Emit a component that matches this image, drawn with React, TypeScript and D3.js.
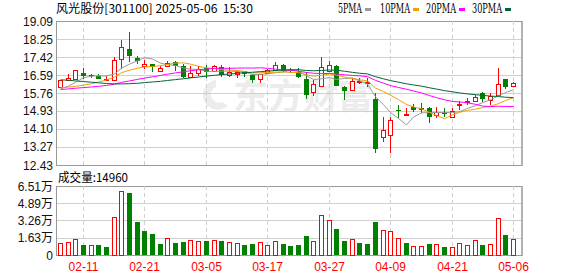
import React from 'react';
import * as d3 from 'd3';

// trading days shown (MM-DD)
const dates = [
  '02-06', '02-07', '02-10', '02-11', '02-12', '02-13', '02-14', '02-17', '02-18', '02-19',
  '02-20', '02-21', '02-24', '02-25', '02-26', '02-27', '02-28', '03-03', '03-04', '03-05',
  '03-06', '03-07', '03-10', '03-11', '03-12', '03-13', '03-14', '03-17', '03-18', '03-19',
  '03-20', '03-21', '03-24', '03-25', '03-26', '03-27', '03-28', '03-31', '04-01', '04-02',
  '04-03', '04-07', '04-08', '04-09', '04-10', '04-11', '04-14', '04-15', '04-16', '04-17',
  '04-18', '04-21', '04-22', '04-23', '04-24', '04-25', '04-28', '04-29', '04-30', '05-06',
];

const open = [
  16.04, 16.35, 16.42, 16.7, 16.59, 16.53, 16.38, 16.35, 17.35, 17.81,
  17.37, 17.03, 17.1, 16.79, 17.02, 17.18, 17.02, 16.51, 16.7, 16.92,
  16.8, 16.98, 16.6, 16.66, 16.76, 16.59, 16.39, 16.7, 16.82, 17.04,
  16.82, 16.72, 16.41, 15.82, 16.1, 16.79, 17.03, 16.04, 15.9, 16.28,
  16.26, 15.5, 13.74, 13.82, 14.98, 14.73, 15.12, 15.06, 15.07, 14.75,
  14.9, 14.66, 15.2, 15.34, 15.4, 15.74, 15.44, 15.67, 16.41, 16.08,
];
const close = [
  16.35, 16.44, 16.82, 16.53, 16.55, 16.43, 16.41, 17.27, 17.87, 17.49,
  17.22, 17.1, 16.97, 16.92, 17.14, 17.03, 16.52, 16.7, 16.87, 16.71,
  17.0, 16.57, 16.72, 16.75, 16.64, 16.37, 16.64, 16.81, 17.04, 16.8,
  16.76, 16.52, 15.67, 16.18, 16.95, 17.05, 16.1, 15.87, 16.32, 16.3,
  16.28, 13.15, 14.05, 14.51, 14.92, 14.79, 14.97, 14.99, 14.64, 14.9,
  14.78, 14.94, 15.23, 15.37, 15.56, 15.47, 15.62, 16.18, 16.06, 16.24,
];
const high = [
  16.38, 16.64, 16.84, 16.92, 16.65, 16.62, 16.55, 17.41, 18.2, 18.56,
  17.45, 17.3, 17.12, 17.02, 17.24, 17.22, 17.08, 17.02, 17.02, 17.04,
  17.05, 17.05, 16.98, 16.8, 16.8, 16.66, 16.66, 16.86, 17.21, 17.12,
  16.9, 16.9, 16.75, 16.35, 17.44, 17.24, 17.05, 16.1, 16.44, 16.44,
  16.44, 15.77, 14.66, 14.66, 15.2, 15.05, 15.24, 15.28, 15.1, 15.13,
  15.05, 15.05, 15.41, 15.54, 15.66, 15.79, 15.78, 16.9, 16.42, 16.28,
];
const low = [
  15.98, 16.3, 16.41, 16.4, 16.46, 16.4, 16.3, 16.3, 16.88, 17.21,
  17.1, 16.88, 16.75, 16.77, 16.95, 16.8, 16.45, 16.5, 16.53, 16.45,
  16.78, 16.52, 16.5, 16.47, 16.48, 16.24, 16.22, 16.68, 16.8, 16.72,
  16.7, 16.45, 15.47, 15.64, 16.08, 16.78, 16.08, 15.44, 15.88, 16.18,
  16.06, 13.0, 13.51, 13.0, 14.62, 14.72, 14.9, 14.85, 14.36, 14.6,
  14.66, 14.64, 14.97, 15.2, 15.35, 15.36, 15.22, 15.66, 15.96, 16.05,
];
// volume in 万
const volume = [
  1.11, 1.2, 1.49, 0.95, 0.92, 0.95, 0.76, 3.57, 6.04, 5.88,
  3.13, 2.28, 1.99, 1.04, 1.58, 1.14, 1.23, 1.39, 1.3, 1.33,
  1.39, 1.33, 1.23, 1.14, 0.95, 1.04, 1.2, 0.92, 1.3, 1.04,
  0.85, 0.95, 1.8, 1.3, 3.76, 3.29, 2.47, 1.33, 1.49, 1.14,
  1.04, 3.13, 2.34, 2.24, 1.58, 1.14, 0.82, 0.82, 1.04, 1.01,
  0.76, 0.73, 1.11, 0.92, 1.39, 0.95, 1.01, 3.48, 1.9, 1.496,
];

// MA values before enough closes are on screen
const ma5Head = [15.95, 16.08, 16.25, 16.47];
const ma10Head = [16.0, 16.03, 16.07, 16.12, 16.19, 16.27, 16.36, 16.5, 16.7];
const ma20Head = [
  15.92, 15.95, 15.98, 16.01, 16.04, 16.07, 16.11, 16.17, 16.25, 16.32,
  16.39, 16.45, 16.51, 16.57, 16.63, 16.69, 16.74, 16.79, 16.83,
];
const ma30Head = [
  16.37, 16.35, 16.32, 16.29, 16.26, 16.23, 16.2, 16.18, 16.18, 16.19,
  16.21, 16.24, 16.27, 16.3, 16.34, 16.38, 16.42, 16.46, 16.5, 16.54,
  16.58, 16.61, 16.64, 16.67, 16.7, 16.72, 16.75, 16.77, 16.8,
];

const priceTicks = [19.09, 18.25, 17.42, 16.59, 15.76, 14.93, 14.1, 13.27, 12.43];
const priceTickLabels = ['19.09', '18.25', '17.42', '16.59', '15.76', '14.93', '14.10', '13.27', '12.43'];
const volTicks = [6.51, 4.89, 3.26, 1.63, 0];
const volTickLabels = ['6.51万', '4.89万', '3.26万', '1.63万', '0'];
const dateTicks = ['02-11', '02-21', '03-05', '03-17', '03-27', '04-09', '04-21', '05-06'];

const maNames = ['5PMA', '10PMA', '20PMA', '30PMA'];
const maPeriods = [5, 10, 20, 30];
const maHeads = [ma5Head, ma10Head, ma20Head, ma30Head];
const maColors = ['#999999', '#f0a000', '#ff00ff', '#006633'];
const legendX = [338, 380, 426, 472];

const RED = '#ff0000';
const GREEN = '#008000';
const GRID = '#d0d0d0';
const FRAME = '#999999';
const FONT = '"Liberation Sans", Arial, "Noto Sans CJK SC", sans-serif';

const L = 56, R = 522;
const PT = 21, PB = 165;
const VT = 186, VB = 255;

export default function App() {
  const x = d3.scaleBand<string>().domain(dates).range([L, 517]);
  const cx = (i: number) => Math.round(x(dates[i])! + x.bandwidth() / 2) + 0.5;
  const yP = d3.scaleLinear().domain([12.43, 19.09]).range([PB, PT]);
  const yV = d3.scaleLinear().domain([0, 6.51]).range([VB, VT]);

  const maSeries = maPeriods.map((n, k) =>
    dates.map((_, i) =>
      i >= n - 1 ? d3.mean(close.slice(i - n + 1, i + 1))! : maHeads[k][i]
    )
  );
  const line = d3
    .line<number>()
    .x((_, i) => cx(i))
    .y((v) => yP(v));

  return (
    <svg width={578} height={276} style={{ position: 'absolute', left: 0, top: 0, background: '#fff' }}
      fontFamily={FONT}>
      {/* title & legend */}
      <text x={56} y={13} fontSize={12} fontFamily='"Noto Sans CJK SC", sans-serif'
        textLength={197} lengthAdjust="spacingAndGlyphs" style={{ whiteSpace: 'pre' }}>
        {'风光股份[301100] 2025-05-06  15:30'}
      </text>
      {maNames.map((n, k) => (
        <g key={n}>
          <text x={legendX[k]} y={13} fontSize={12} fontFamily='"DejaVu Serif", serif'
            textLength={n.length * 6} lengthAdjust="spacingAndGlyphs">{n}</text>
          <rect x={legendX[k] + n.length * 6 + 3} y={8} width={6} height={3} fill={maColors[k]} />
        </g>
      ))}

      {/* watermark */}
      <g fill="#ebebeb" opacity={0.9}>
        <path d="M216,80 a15,15 0 1,0 12,26 l-6,-4 a8,8 0 1,1 -6,-15 z" />
        <text x={233} y={109} fontSize={35} fontWeight="bold"
          fontFamily='"Noto Sans CJK SC", sans-serif'>东方财富</text>
      </g>

      {/* price grid */}
      {priceTicks.map((t, k) => (
        <g key={t}>
          <line x1={L} x2={R} y1={Math.round(yP(t)) + 0.5} y2={Math.round(yP(t)) + 0.5}
            stroke={k === 0 || k === priceTicks.length - 1 ? FRAME : GRID} />
          <text x={53} y={yP(t) + 4.5} fontSize={12} textAnchor="end" fill="#111">
            {priceTickLabels[k]}
          </text>
        </g>
      ))}
      {volTicks.map((t, k) => (
        <g key={t}>
          <line x1={L} x2={R} y1={Math.round(yV(t)) + 0.5} y2={Math.round(yV(t)) + 0.5}
            stroke={k === 0 || k === volTicks.length - 1 ? FRAME : GRID} />
          <text x={53} y={yV(t) + 4.5} fontSize={12} textAnchor="end" fill="#111"
            fontFamily={'"Liberation Sans", "Noto Sans CJK SC", sans-serif'}>
            {volTickLabels[k]}
          </text>
        </g>
      ))}
      {dateTicks.map((d) => {
        const xi = cx(dates.indexOf(d));
        return (
          <g key={d}>
            <line x1={xi} x2={xi} y1={PT} y2={PB} stroke={GRID} strokeDasharray="4,3" />
            <line x1={xi} x2={xi} y1={VT} y2={VB} stroke={GRID} strokeDasharray="4,3" />
            <text x={xi} y={271} fontSize={12} textAnchor="middle" fill={RED}>{d}</text>
          </g>
        );
      })}

      {/* frames */}
      <line x1={L + 0.5} x2={L + 0.5} y1={PT} y2={PB + 1} stroke={FRAME} />
      <line x1={R} x2={R} y1={PT} y2={PB + 1} stroke={FRAME} strokeWidth={1.5} />
      <line x1={L + 0.5} x2={L + 0.5} y1={VT} y2={VB + 1} stroke={FRAME} />
      <line x1={R} x2={R} y1={VT} y2={VB + 1} stroke={FRAME} strokeWidth={1.5} />

      <text x={58} y={182} fontSize={12} fontFamily='"Noto Sans CJK SC", sans-serif'
        textLength={70} lengthAdjust="spacingAndGlyphs">{`成交量:${Math.round(volume[volume.length - 1] * 10000)}`}</text>

      {/* candles */}
      {dates.map((d, i) => {
        const c = cx(i);
        const up = close[i] >= open[i];
        const col = up ? RED : GREEN;
        const top = Math.round(yP(Math.max(open[i], close[i])));
        const bot = Math.round(yP(Math.min(open[i], close[i])));
        const h = Math.max(1, bot - top);
        return (
          <g key={d} shapeRendering="crispEdges">
            <line x1={c} x2={c} y1={yP(high[i])} y2={yP(low[i])} stroke={col} />
            {up ? (
              <rect x={c - 2} y={top + 0.5} width={4} height={h} fill="#fff" stroke={col} />
            ) : (
              <rect x={c - 2.5} y={top} width={5} height={h} fill={col} />
            )}
          </g>
        );
      })}

      {/* moving averages */}
      {maSeries.map((s, k) => (
        <path key={k} d={line(s)!} fill="none" stroke={maColors[k]} strokeWidth={1} />
      ))}

      {/* volume */}
      {dates.map((d, i) => {
        const c = cx(i);
        const up = i === 0 ? close[i] >= open[i] : close[i] >= close[i - 1];
        const top = Math.round(yV(volume[i]));
        return up ? (
          <rect key={d} x={c - 2} y={top + 0.5} width={4} height={VB - top - 0.5}
            fill="#fff" stroke={RED} shapeRendering="crispEdges" />
        ) : (
          <rect key={d} x={c - 2.5} y={top} width={5} height={VB - top}
            fill={GREEN} shapeRendering="crispEdges" />
        );
      })}
    </svg>
  );
}
